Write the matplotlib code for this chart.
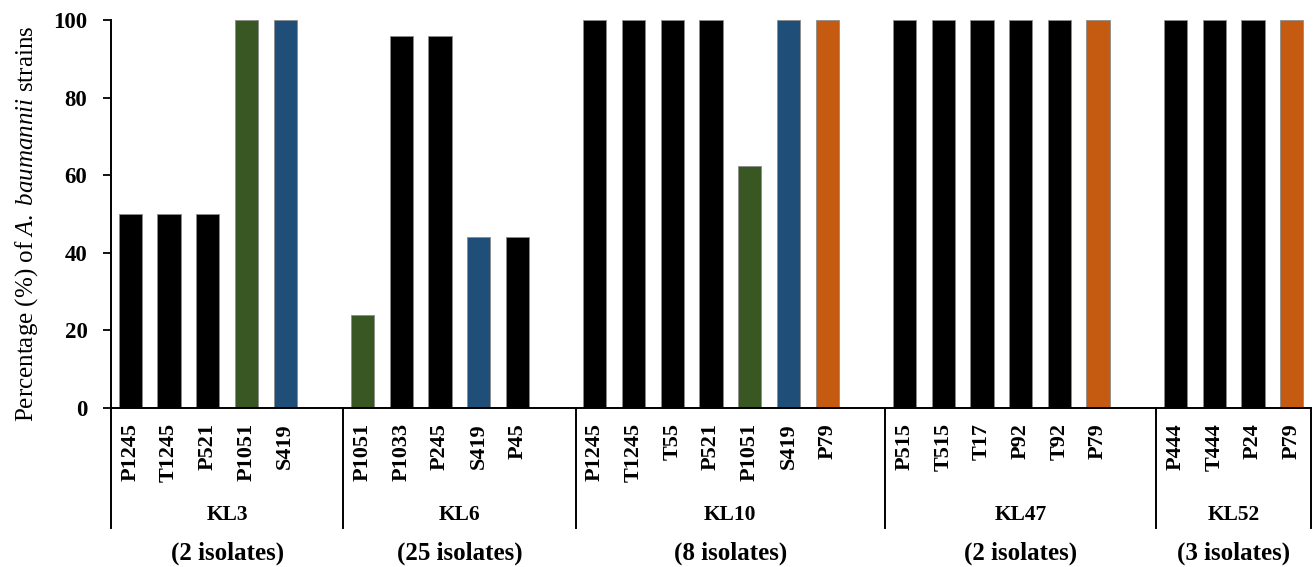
import numpy as np
import matplotlib
matplotlib.use("Agg")
import matplotlib.pyplot as plt
import matplotlib.transforms as mtransforms

plt.rcParams["font.family"] = "Liberation Serif"
plt.rcParams["mathtext.fontset"] = "custom"
plt.rcParams["mathtext.rm"] = "Liberation Serif"
plt.rcParams["mathtext.it"] = "Liberation Serif:italic"

# groups (capsule types), their isolate counts and the strains in each
groups = ["KL3", "KL6", "KL10", "KL47", "KL52"]
isolates = ["(2 isolates)", "(25 isolates)", "(8 isolates)", "(2 isolates)", "(3 isolates)"]
kl3_names = ["P1245", "T1245", "P521", "P1051", "S419", ""]
kl6_names = ["P1051", "P1033", "P245", "S419", "P45", ""]
kl10_names = ["P1245", "T1245", "T55", "P521", "P1051", "S419", "P79", ""]
kl47_names = ["P515", "T515", "T17", "P92", "T92", "P79", ""]
kl52_names = ["P444", "T444", "P24", "P79"]

kl3_values = [50, 50, 50, 100, 100, 0]
kl6_values = [24, 96, 96, 44, 44, 0]
kl10_values = [100, 100, 100, 100, 62.5, 100, 100, 0]
kl47_values = [100, 100, 100, 100, 100, 100, 0]
kl52_values = [100, 100, 100, 100]

# colour per strain family
strain_colors = {"P1051": "#385723", "S419": "#1f4e79", "P79": "#c55a11"}

names = kl3_names + kl6_names + kl10_names + kl47_names + kl52_names
values = kl3_values + kl6_values + kl10_values + kl47_values + kl52_values
sizes = [len(kl3_names), len(kl6_names), len(kl10_names), len(kl47_names), len(kl52_names)]

W, H = 1315, 567
fig = plt.figure(figsize=(W / 100, H / 100), dpi=100)
ax = fig.add_axes([111 / W, (H - 408) / H, 1200 / W, 388 / H])

x = np.arange(len(names))
colors = [strain_colors.get(n, "#000000") for n in names]
ax.bar(x, values, width=0.6, color=colors, edgecolor="#8c8c8c", linewidth=0.6)

ax.set_xlim(-0.5, len(names) - 0.5)
ax.set_ylim(0, 100)
ax.set_yticks(np.arange(0, 101, 20))
for lab in ax.get_yticklabels():
    lab.set_fontweight("bold")
ax.tick_params(axis="y", direction="out", length=6, width=1.3, labelsize=16.5, pad=11)
ax.set_xticks(x)
ax.set_xticklabels(names, rotation=90, fontsize=16, fontweight="bold")
ax.tick_params(axis="x", length=0, pad=11)

for s in ["top", "right"]:
    ax.spines[s].set_visible(False)
for s in ["left", "bottom"]:
    ax.spines[s].set_linewidth(1.4)

trans = mtransforms.blended_transform_factory(ax.transData, ax.transAxes)
bounds = np.concatenate([[0], np.cumsum(sizes)]) - 0.5
for b in bounds:
    ax.plot([b, b], [0, -0.31], color="black", lw=1.4, transform=trans, clip_on=False)

for i, g in enumerate(groups):
    cx = (bounds[i] + bounds[i + 1]) / 2
    ax.text(cx, -0.276, g, transform=trans, ha="center", va="center",
            fontsize=15.5, fontweight="bold")
    ax.text(cx, -0.374, isolates[i], transform=trans, ha="center", va="center",
            fontsize=18, fontweight="bold")

fig.text(27 / W, 1 - 224 / H, r"Percentage (%) of $\mathit{A.\;baumannii}$ strains",
         rotation=90, ha="center", va="center", fontsize=18)

fig.savefig("out.png", dpi=100)
